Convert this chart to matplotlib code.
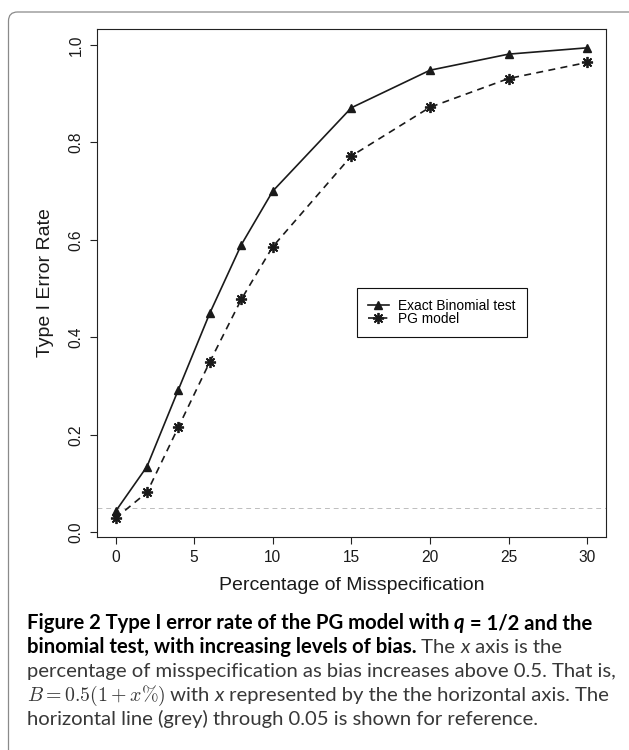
import matplotlib
matplotlib.use("Agg")
import matplotlib.pyplot as plt
from matplotlib.patches import FancyBboxPatch
from matplotlib.transforms import IdentityTransform

# values
pct = [0, 2, 4, 6, 8, 10, 15, 20, 25, 30]
exact_binom = [0.043, 0.135, 0.293, 0.450, 0.590, 0.700, 0.871, 0.948, 0.981, 0.994]
pg_model = [0.029, 0.082, 0.216, 0.350, 0.478, 0.586, 0.772, 0.872, 0.931, 0.964]
ref_level = 0.05

xticks = [0, 5, 10, 15, 20, 25, 30]
yticks = [0.0, 0.2, 0.4, 0.6, 0.8, 1.0]

W, H = 629, 750
plt.rcParams['font.family'] = ['Liberation Sans', 'DejaVu Sans']

fig = plt.figure(figsize=(W / 100, H / 100), dpi=100)
fig.patch.set_facecolor('white')

# outer panel frame (rounded, runs off the right and bottom)
frame = FancyBboxPatch((8.5, -60), 700, H - 12 + 60, boxstyle='round,pad=0,rounding_size=9',
                       transform=IdentityTransform(), fc='none', ec='#8a8a8a', lw=0.9, zorder=0)
fig.add_artist(frame)

ax = fig.add_axes([96.7 / W, 1 - 537 / H, 509.3 / W, 508 / H])

ax.axhline(ref_level, color='#bdbdbd', lw=0.7, ls=(0, (5, 4)), zorder=1)
ax.plot(pct, exact_binom, color='#1a1a1a', lw=1.2, marker='^', ms=5.8,
        label='Exact Binomial test', zorder=3)
ax.plot(pct, pg_model, color='#1a1a1a', lw=1.2, ls=(0, (4.2, 3.2)), marker=(8, 2, 0),
        ms=8, mew=1.3, label='PG model', zorder=3)

ax.set_xlim(-1.2, 31.2)
ax.set_ylim(-0.0096, 1.0326)
ax.set_xticks(xticks)
ax.set_xticklabels([str(v) for v in xticks])
ax.set_yticks(yticks)
ax.set_yticklabels(['%.1f' % v for v in yticks])

for s in ax.spines.values():
    s.set_linewidth(0.8)
    s.set_color('#222222')
ax.tick_params(length=5, width=0.8, color='#222222', labelsize=11.2, labelcolor='#1a1a1a')
ax.tick_params(axis='x', pad=4)
ax.tick_params(axis='y', pad=4.5)
for lab in ax.get_yticklabels():
    lab.set_rotation(90)
    lab.set_va('center')

ax.set_xlabel('Percentage of Misspecification', fontsize=14, color='#1a1a1a', va='center')
ax.xaxis.set_label_coords(0.5, (537 - 585) / 508)
ax.set_ylabel('Type I Error Rate', fontsize=14, color='#1a1a1a', va='center')
ax.yaxis.set_label_coords((46 - 96.7) / 509.3, 0.5)

leg = ax.legend(loc='upper left', bbox_to_anchor=(357 / W, 1 - 288 / H),
                bbox_transform=fig.transFigure, borderaxespad=0, fontsize=9.9,
                handlelength=1.5, handletextpad=0.7, borderpad=0.8, labelspacing=-0.1,
                numpoints=1, fancybox=False, framealpha=1)
leg.get_frame().set_edgecolor('#111111')
leg.get_frame().set_linewidth(0.8)

# caption, drawn piece by piece (bold / normal / italic / math)
cap_font = 'Lato'
fs = 14.6
bold = dict(family=cap_font, weight='bold', size=fs, color='black')
bold_it = dict(family=cap_font, weight='bold', style='italic', size=fs, color='black')
norm = dict(family=cap_font, size=fs, color='#383838')
ital = dict(family=cap_font, style='italic', size=fs, color='#383838')
math = dict(size=fs - 0.3, color='#383838', math_fontfamily='cm')

renderer = fig.canvas.get_renderer()


def advance(txt, kw):
    if txt.startswith('$'):
        t = fig.text(0, 0, txt, **kw)
        w = t.get_window_extent(renderer).width
        t.remove()
        return w
    a = fig.text(0, 0, txt + '|', **kw)
    b = fig.text(0, 0, '|', **kw)
    w = a.get_window_extent(renderer).width - b.get_window_extent(renderer).width
    a.remove()
    b.remove()
    return w


caption = [
    [("Figure 2 Type I error rate of the PG model with ", bold), ("q", bold_it), (" = 1/2 and the", bold)],
    [("binomial test, with increasing levels of bias.", bold), (" The ", norm), ("x", ital), (" axis is the", norm)],
    [("percentage of misspecification as bias increases above 0.5. That is,", norm)],
    [(r"$B = 0.5(1 + x\%)$", math), (" with ", norm), ("x", ital),
     (" represented by the the horizontal axis. The", norm)],
    [("horizontal line (grey) through 0.05 is shown for reference.", norm)],
]
baselines = [629, 653, 677, 701, 725]

for pieces, yb in zip(caption, baselines):
    x = 26.7
    for txt, kw in pieces:
        fig.text(x / W, 1 - yb / H, txt, ha='left', va='baseline', **kw)
        x += advance(txt, kw)

fig.savefig('out.png', dpi=100)
